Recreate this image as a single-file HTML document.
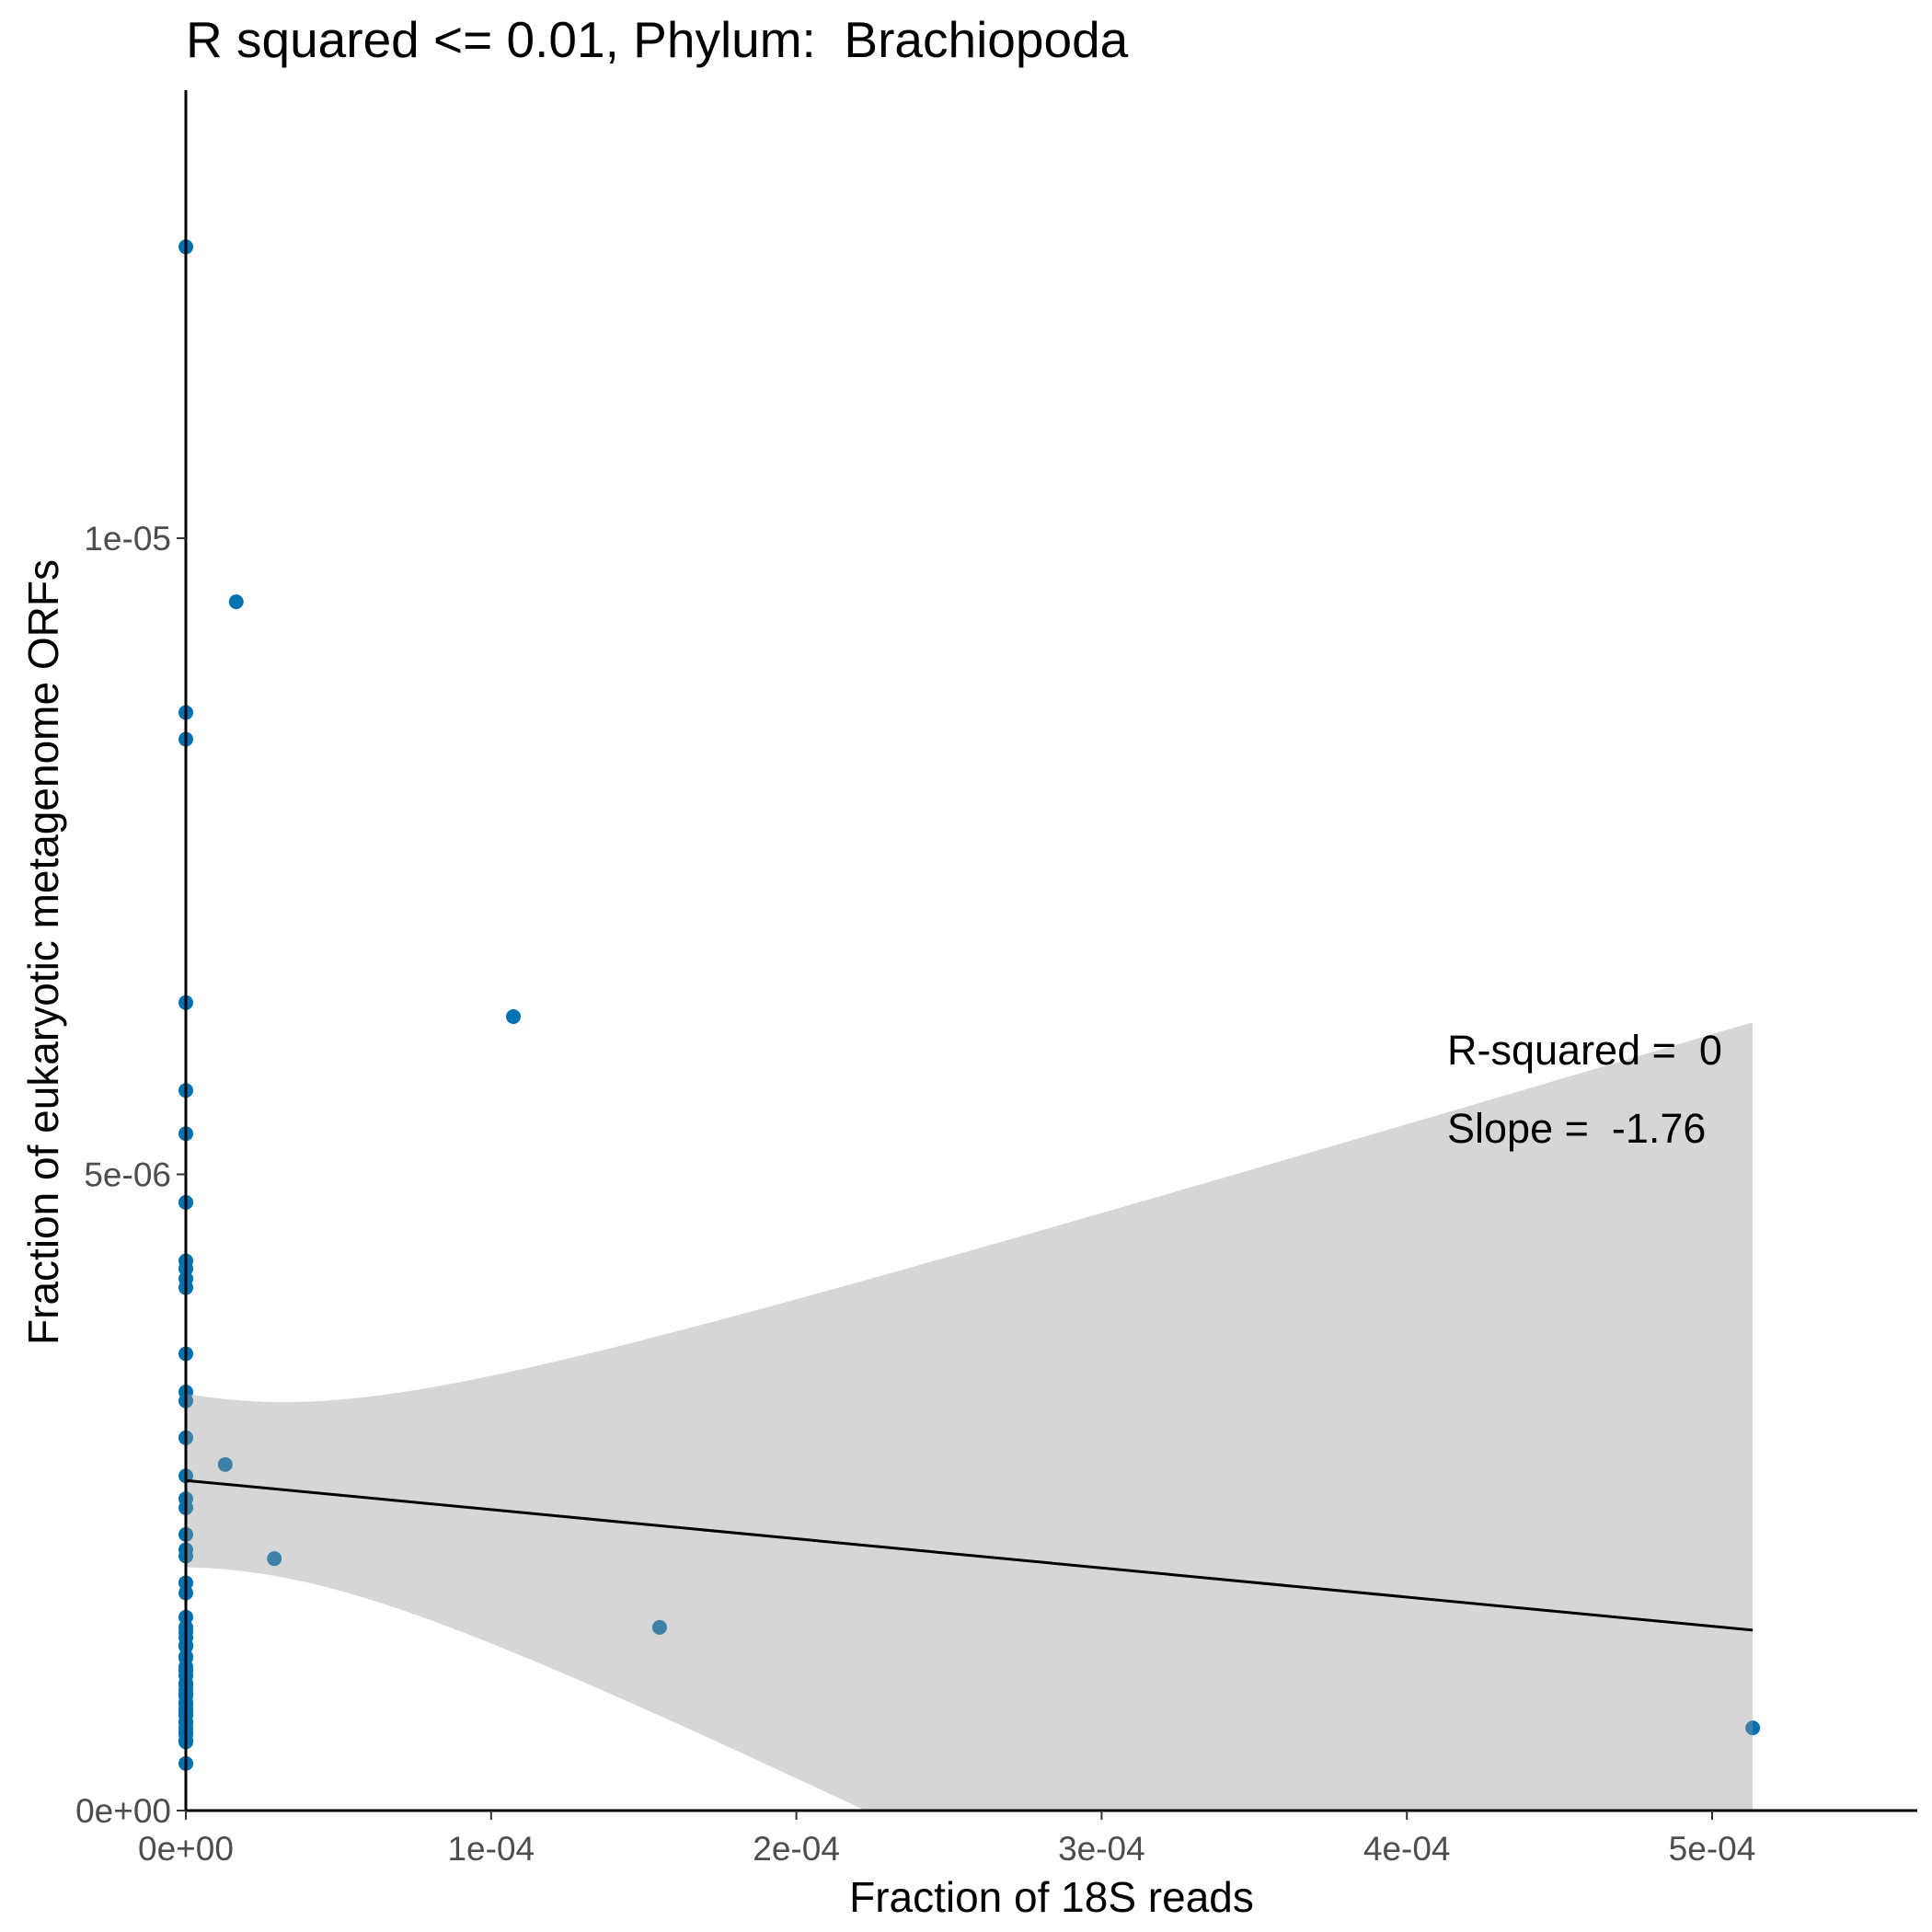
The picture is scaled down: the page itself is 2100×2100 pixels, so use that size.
<!DOCTYPE html>
<html><head><meta charset="utf-8"><style>body{margin:0;background:#fff}svg{display:block}text{font-family:"Liberation Sans",sans-serif;white-space:pre}</style></head>
<body>
<svg id="chart" width="2100" height="2100" viewBox="0 0 2100 2100"></svg>
<script>
const xVals = [0,0,0,0,0,0,0,0,0,0,0,0,0,0,0,0,0,0,0,0,0,0,0,0,0,0,0,0,0,0,0,0,0,0,0,0,0,0,
  0,0,0,0,0,0,0,0,0,0,0,0,0,0,
  1.65e-5,1.073e-4,1.29e-5,2.9e-5,1.552e-4,5.133e-4];
const yVals = [1.229e-5,8.63e-6,8.42e-6,6.35e-6,5.66e-6,5.32e-6,4.78e-6,4.32e-6,4.26e-6,4.18e-6,4.11e-6,3.59e-6,3.29e-6,3.22e-6,2.93e-6,2.63e-6,2.45e-6,2.38e-6,2.17e-6,2.05e-6,2.0e-6,1.79e-6,1.71e-6,1.52e-6,1.44e-6,1.36e-6,1.29e-6,1.21e-6,1.13e-6,1.06e-6,0.99e-6,0.92e-6,0.84e-6,0.77e-6,0.69e-6,0.62e-6,0.54e-6,0.37e-6,
  1.4e-6,1.3e-6,1.2e-6,1.1e-6,1.0e-6,0.95e-6,0.9e-6,0.85e-6,0.8e-6,0.75e-6,0.7e-6,0.65e-6,0.6e-6,0.55e-6,
  9.5e-6,6.24e-6,2.72e-6,1.98e-6,1.44e-6,0.65e-6];
const xTicks = [0,1e-4,2e-4,3e-4,4e-4,5e-4];
const xTickLabels = ["0e+00","1e-04","2e-04","3e-04","4e-04","5e-04"];
const yTicks = [0,5e-6,1e-5];
const yTickLabels = ["0e+00","5e-06","1e-05"];

const NS="http://www.w3.org/2000/svg", svg=document.getElementById('chart');
const X0=202, Y0=1968;
const sx=v=>X0+v/1e-4*331.8, sy=v=>Y0-v/1e-5*1383;
function mk(t,a,p){const e=document.createElementNS(NS,t);for(const k in a)e.setAttribute(k,a[k]);(p||svg).appendChild(e);return e;}

const pg=mk('g',{});


xVals.forEach((x,i)=>{const c=mk('circle',{cx:sx(x),cy:sy(yVals[i]),r:8,fill:'#0072B2'},pg);

});

const n=xVals.length, mx=xVals.reduce((a,b)=>a+b)/n, my=yVals.reduce((a,b)=>a+b)/n;
let sxx=0,sxy=0;xVals.forEach((x,i)=>{sxx+=(x-mx)**2;sxy+=(x-mx)*(yVals[i]-my);});
const b=sxy/sxx,a=my-b*mx;let sse=0;xVals.forEach((x,i)=>{sse+=(yVals[i]-a-b*x)**2;});
const s=Math.sqrt(sse/(n-2)), tq=2.005, xmax=Math.max(...xVals);
let up=[],lo=[];
for(let k=0;k<=80;k++){const x=xmax*k/80,f=a+b*x,se=s*Math.sqrt(1/n+(x-mx)**2/sxx);
up.push(sx(x)+','+sy(f+tq*se));lo.push(sx(x)+','+sy(Math.max(f-tq*se,-1e-7)));}
const clip=mk('clipPath',{id:'pc'});mk('rect',{x:X0,y:90,width:1890,height:Y0-90},clip);
const rib=mk('polygon',{points:up.concat(lo.reverse()).join(' '),fill:'#999999','fill-opacity':0.4,'clip-path':'url(#pc)'});


const ln=mk('line',{x1:sx(0),y1:sy(a),x2:sx(xmax),y2:sy(a+b*xmax),stroke:'#000','stroke-width':3});



const ax=mk('line',{x1:X0,y1:Y0,x2:2084,y2:Y0,stroke:'#000','stroke-width':3});

const ay=mk('line',{x1:X0,y1:98,x2:X0,y2:Y0,stroke:'#000','stroke-width':3});

xTicks.forEach((v,i)=>{mk('line',{x1:sx(v),y1:Y0,x2:sx(v),y2:Y0+10,stroke:'#333','stroke-width':2});
const t=mk('text',{x:sx(v),y:2022,'font-size':37,fill:'#4d4d4d','text-anchor':'middle'});t.textContent=xTickLabels[i];
});
yTicks.forEach((v,i)=>{mk('line',{x1:X0-10,y1:sy(v),x2:X0,y2:sy(v),stroke:'#333','stroke-width':2});
const t=mk('text',{x:X0-16,y:sy(v)+13,'font-size':37,fill:'#4d4d4d','text-anchor':'end'});t.textContent=yTickLabels[i];
});
</script>
<div style="position:absolute;left:0;top:0;width:2100px;height:2100px;pointer-events:none">
<svg width="2100" height="2100">
<text x="202" y="62" font-size="55" xml:space="preserve">R squared &lt;= 0.01, Phylum:  Brachiopoda</text>
<text x="1143" y="2078" font-size="46" text-anchor="middle">Fraction of 18S reads</text>
<text transform="translate(63,1035) rotate(-90)" font-size="46" text-anchor="middle">Fraction of eukaryotic metagenome ORFs</text>
<text x="1573" y="1157" font-size="45" xml:space="preserve">R-squared =  0</text>
<text x="1573" y="1242" font-size="45" xml:space="preserve">Slope =  -1.76</text>
</svg></div>
</body></html>
